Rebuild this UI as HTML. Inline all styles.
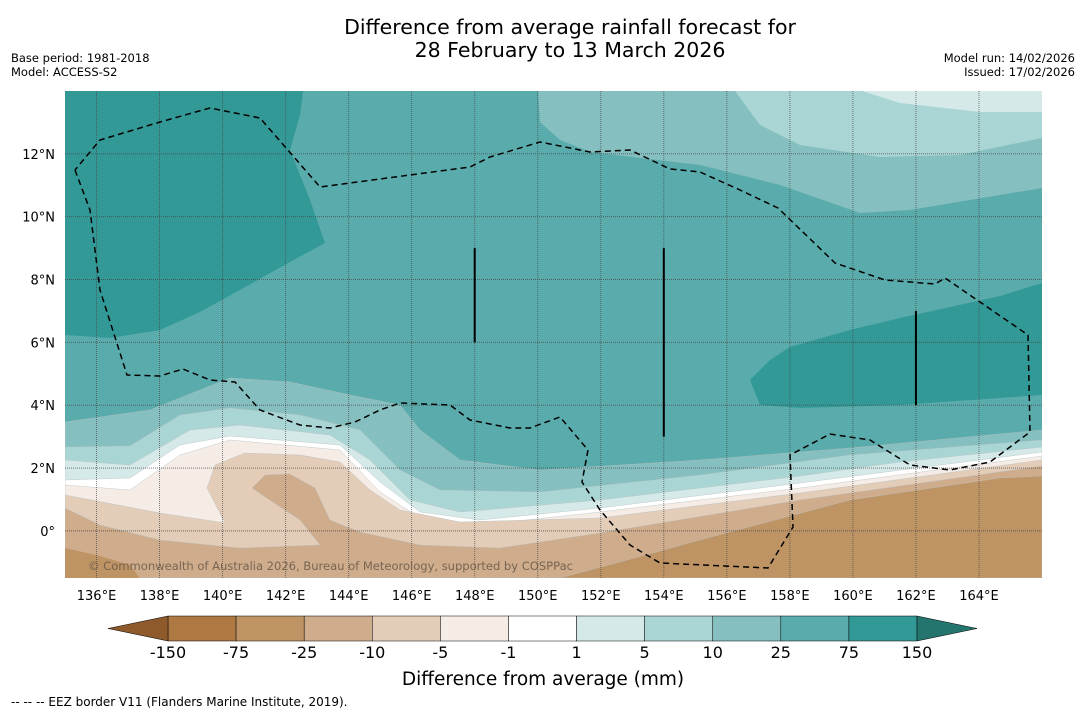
<!DOCTYPE html>
<html><head><meta charset="utf-8">
<style>
body{margin:0;background:#fff;width:1085px;height:713px;overflow:hidden;font-family:"DejaVu Sans","Liberation Sans",sans-serif}
svg{display:block}
svg text{font-family:"DejaVu Sans","Liberation Sans",sans-serif}
</style></head>
<body>
<svg id="chart" width="1085" height="713" xmlns="http://www.w3.org/2000/svg">
<text x="570" y="34" font-size="20.5" text-anchor="middle">Difference from average rainfall forecast for</text>
<text x="570" y="57" font-size="20.5" text-anchor="middle">28 February to 13 March 2026</text>
<text x="11" y="62" font-size="11.5">Base period: 1981-2018</text>
<text x="11" y="76" font-size="11.5">Model: ACCESS-S2</text>
<text x="1075" y="62" font-size="11.5" text-anchor="end">Model run: 14/02/2026</text>
<text x="1075" y="76" font-size="11.5" text-anchor="end">Issued: 17/02/2026</text>
<defs><clipPath id="mapclip"><rect x="65" y="91" width="977" height="487"/></clipPath></defs>
<g id="map" clip-path="url(#mapclip)"></g>
<g id="axes"></g>
<g id="cbar"></g>
<text x="543" y="685" font-size="18.5" text-anchor="middle">Difference from average (mm)</text>
<text x="11" y="706" font-size="12">--  --  -- EEZ border V11 (Flanders Marine Institute, 2019).</text>
</svg>
<script>
const lonTicks=[136,138,140,142,144,146,148,150,152,154,156,158,160,162,164];
const latTicks=[0,2,4,6,8,10,12];
const cbLabels=["-150","-75","-25","-10","-5","-1","1","5","10","25","75","150"];
const cbColors=["#ad7842","#bf9465","#cfac8c","#e3cdb9","#f5ece6","#ffffff","#d4e9e8","#aad5d5","#85bfbf","#5aabab","#339996"];
const lonMin=135,lonMax=166,latMin=-1.5,latMax=14;
const X0=65,X1=1042,Y0=91,Y1=578;
const xS=l=>X0+(l-lonMin)/(lonMax-lonMin)*(X1-X0);
const yS=l=>Y1-(l-latMin)/(latMax-latMin)*(Y1-Y0);
const NS="http://www.w3.org/2000/svg";
function mk(tag,attrs,parent){const e=document.createElementNS(NS,tag);for(const k in attrs)e.setAttribute(k,attrs[k]);parent.appendChild(e);return e;}
const map=document.getElementById('map');
const P=a=>a.map(p=>p.join(',')).join(' ');
let r=mk('rect',{x:X0,y:Y0,width:X1-X0,height:Y1-Y0,fill:"#5aabab"},map);


let pg=mk('polygon',{fill:"#339996",points:P([[65,91],[303,91],[300,115],[290,150],[310,200],[325,243],[290,262],[240,290],[200,312],[160,330],[110,338],[65,335]])},map);


pg=mk('polygon',{fill:"#339996",points:P([[750,380],[770,360],[790,347],[850,330],[900,318],[1000,296],[1042,283],[1042,395],[900,405],[800,408],[760,405]])},map);


const upper=[["#85bfbf",[[538,91],[540,122],[560,140],[590,152],[700,165],[780,185],[860,213],[910,210],[1000,195],[1042,188],[1042,91]]],
["#aad5d5",[[735,91],[760,125],[800,145],[880,157],[960,155],[1042,138],[1042,91]]],
["#d4e9e8",[[862,91],[900,103],[980,112],[1042,112],[1042,91]]]];
upper.forEach((u,i)=>{const e=mk('polygon',{fill:u[0],points:P(u[1])},map);

});
const lower=[
["#85bfbf",[[65,422],[150,410],[230,378],[290,382],[350,395],[400,405],[420,430],[460,460],[540,470],[700,460],[850,448],[1042,430]]],
["#aad5d5",[[65,447],[130,446],[180,415],[230,408],[300,415],[360,430],[400,470],[440,490],[540,492],[700,475],[850,455],[1042,440]]],
["#d4e9e8",[[65,460],[130,465],[190,430],[240,425],[330,435],[370,460],[410,500],[460,512],[600,500],[800,476],[900,462],[1042,447]]],
["#ffffff",[[65,480],[130,478],[180,445],[230,436],[340,445],[380,482],[420,512],[480,520],[600,508],[800,483],[1042,452]]],
["#f5ece6",[[65,485],[130,490],[180,455],[230,440],[340,450],[380,492],[420,518],[480,525],[600,512],[800,488],[1042,456]]],
["#e3cdb9",[[65,495],[160,513],[225,523],[207,488],[215,465],[245,453],[300,455],[340,462],[370,490],[400,510],[460,522],[600,518],[800,493],[1042,460]]],
["#cfac8c",[[65,508],[100,525],[160,540],[240,548],[320,545],[300,520],[265,497],[252,488],[265,475],[290,474],[315,488],[330,520],[360,532],[420,545],[500,548],[600,533],[800,500],[1042,466]]],
["#bf9465",[[560,578],[620,562],[700,540],[850,500],[1000,478],[1042,476]]]];
lower.forEach((u,i)=>{const pts=u[1].concat([[1042,578],[65,578]]);
const e=mk('polygon',{fill:u[0],stroke:"#b8c0c0","stroke-width":0.4,points:P(pts)},map);

});
pg=mk('polygon',{fill:"#bf9465",points:P([[65,548],[100,556],[130,565],[140,578],[65,578]])},map);


lonTicks.forEach(l=>{const e=mk('line',{x1:xS(l),x2:xS(l),y1:Y0,y2:Y1,stroke:"#444","stroke-width":0.9,"stroke-dasharray":"1,1",opacity:0.75},map);

});
latTicks.forEach(l=>{const e=mk('line',{x1:X0,x2:X1,y1:yS(l),y2:yS(l),stroke:"#444","stroke-width":0.9,"stroke-dasharray":"1,1",opacity:0.8},map);

});
[[148,6,9],[154,3,9],[162,4,7]].forEach(s=>{const e=mk('line',{x1:xS(s[0]),x2:xS(s[0]),y1:yS(s[2]),y2:yS(s[1]),stroke:"#000","stroke-width":2},map);

});
const eez=[[75,170],[90,210],[100,290],[127,375],[160,376],[183,369],[210,380],[235,382],[260,410],[300,425],[330,428],[355,422],[380,410],[400,403],[450,405],[470,420],[510,428],[530,428],[560,417],[588,450],[582,482],[600,510],[630,545],[660,563],[768,568],[793,527],[790,455],[830,434],[870,440],[910,465],[950,470],[990,462],[1030,432],[1028,335],[945,278],[935,284],[885,280],[835,263],[778,208],[740,190],[700,172],[670,169],[630,150],[590,152],[540,142],[490,157],[470,167],[320,187],[260,118],[210,108],[160,122],[100,140],[75,170]];
let el=mk('polyline',{points:P(eez),fill:"none",stroke:"#000","stroke-width":1.5,"stroke-dasharray":"6,4"},map);


el=mk('text',{x:88,y:570,"font-size":11.6,fill:"#6a5a48",opacity:0.85,textLength:485},map);el.textContent="© Commonwealth of Australia 2026, Bureau of Meteorology, supported by COSPPac";


const ax=document.getElementById('axes');
lonTicks.forEach(l=>{const t=mk('text',{x:xS(l),y:600,"font-size":13,"text-anchor":"middle"},ax);t.textContent=l+"°E";

});
latTicks.forEach(l=>{const t=mk('text',{x:55,y:yS(l)+5,"font-size":13,"text-anchor":"end"},ax);t.textContent=l===0?"0°":l+"°N";

});
const cb=document.getElementById('cbar');
const cx0=168,cx1=917,cy0=616,cy1=641,w=(cx1-cx0)/cbColors.length;
cbColors.forEach((c,i)=>{const e=mk('rect',{x:cx0+i*w,y:cy0,width:w,height:cy1-cy0,fill:c,stroke:"#000","stroke-width":0.5},cb);

});
el=mk('polygon',{points:P([[cx0,cy0],[108,628.5],[cx0,cy1]]),fill:"#8e5a2c",stroke:"#000","stroke-width":0.5},cb);


el=mk('polygon',{points:P([[cx1,cy0],[977,628.5],[cx1,cy1]]),fill:"#25756f",stroke:"#000","stroke-width":0.5},cb);


cbLabels.forEach((s,i)=>{const t=mk('text',{x:cx0+i*w,y:658,"font-size":16,"text-anchor":"middle"},cb);t.textContent=s;

});
</script>
</body></html>
